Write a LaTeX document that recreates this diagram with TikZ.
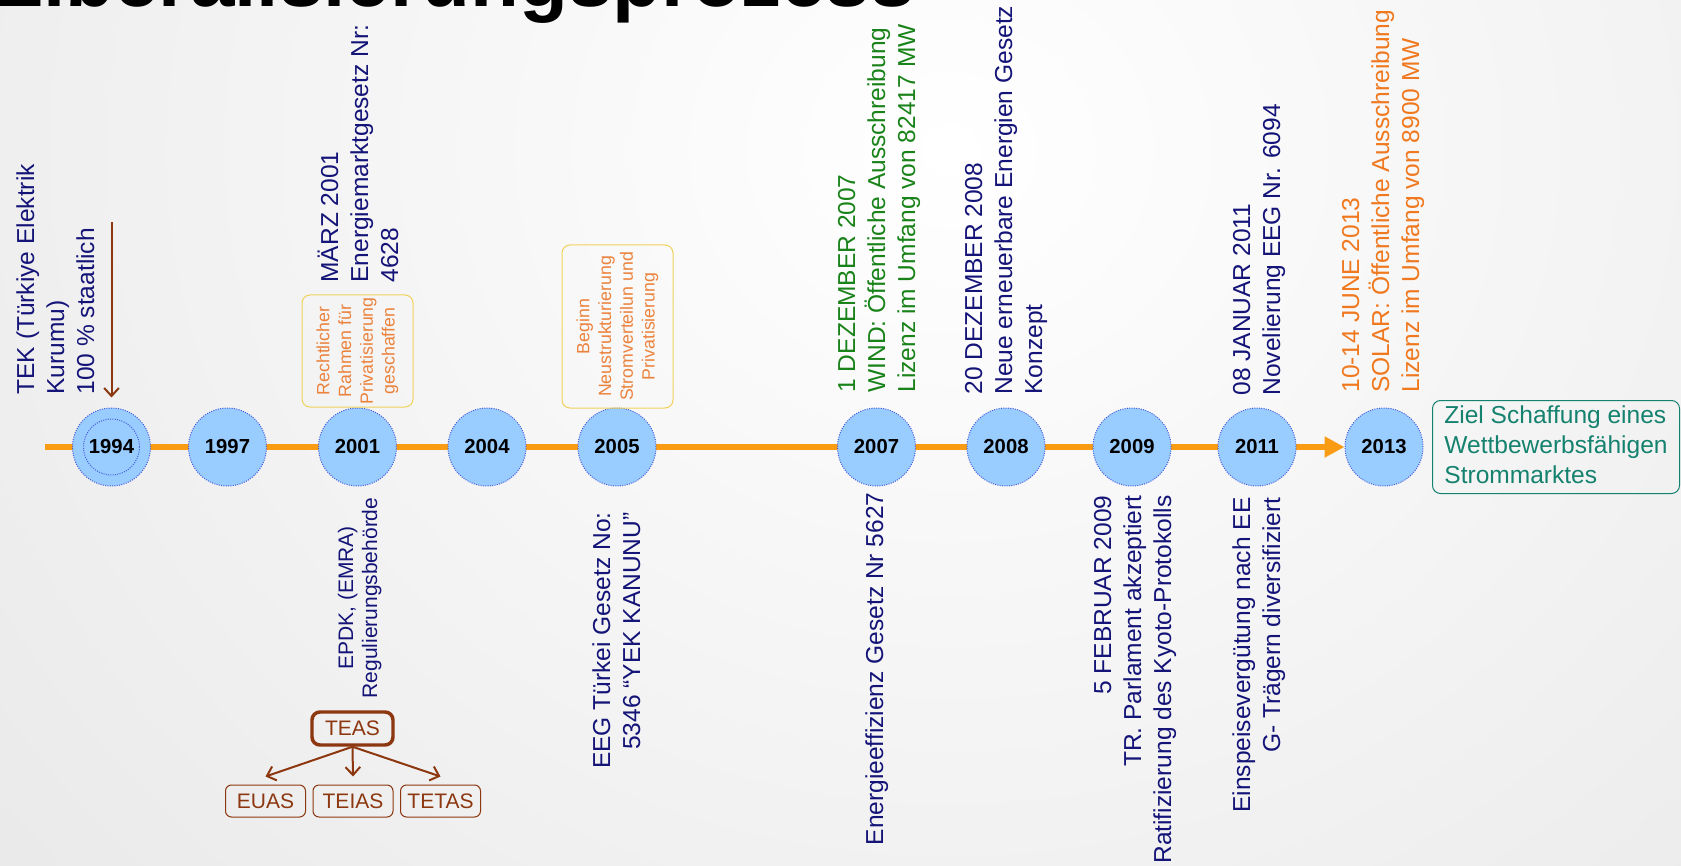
\documentclass[tikz,border=0pt]{standalone}
\usepackage{fontspec}
\setmainfont{Liberation Sans}
\usetikzlibrary{arrows.meta,backgrounds}

\definecolor{eventblue}{RGB}{20,20,120}
\definecolor{windgreen}{RGB}{25,130,25}
\definecolor{solarorange}{RGB}{240,120,30}
\definecolor{boxorange}{RGB}{235,130,60}
\definecolor{boxyellow}{RGB}{240,210,90}
\definecolor{lineorange}{RGB}{250,155,20}
\definecolor{yearfill}{RGB}{153,204,255}
\definecolor{yeardot}{RGB}{70,90,220}
\definecolor{teasbrown}{RGB}{140,55,15}
\definecolor{zielteal}{RGB}{20,130,110}

\newcommand{\eventfont}{\fontsize{18.4}{22.5}\selectfont}
\newcommand{\smallevfont}{\fontsize{15.75}{18}\selectfont}
\newcommand{\boxfont}{\fontsize{13.3}{16.3}\selectfont}

\tikzset{every picture/.style={line width=0.75pt},
  yearnode/.style={circle, minimum size=58.5pt, inner sep=0pt, fill=yearfill, draw=yeardot, densely dotted, font=\fontsize{15.2}{18}\selectfont\bfseries},
  yearring/.style={circle, minimum size=42pt, inner sep=0pt, draw=yeardot, densely dotted},
  upleft/.style={rotate=90, anchor=base west, align=left, inner sep=0pt, font=\eventfont, text=eventblue},
  upright/.style={rotate=90, anchor=base east, align=right, inner sep=0pt, font=\eventfont, text=eventblue},
  notebox/.style={rotate=90, draw=boxyellow, rounded corners=6pt, align=center, inner sep=0pt, font=\boxfont, text=boxorange, minimum height=83.25pt},
  teasbox/.style={draw=teasbrown, rounded corners=4.5pt, inner sep=0pt, minimum width=60pt, minimum height=24pt, font=\smallevfont, text=teasbrown},
  brownarrow/.style={draw=teasbrown, line width=1.5pt, -{Straight Barb[length=6pt,width=11pt]}},
  timeline/.style={draw=lineorange, line width=4.5pt, -{Triangle[length=15pt,width=15pt]}},
}

\begin{document}
\begin{tikzpicture}[x=0.75pt,y=0.75pt,yscale=-1,xscale=1]
\useasboundingbox (0,0) rectangle (1681,866);

% Title (cut at the top)
\begin{scope}
\clip (0,0) rectangle (1681,866);
\node[anchor=base west, inner sep=0pt, font=\fontsize{60}{61}\selectfont\bfseries] (title) at (-6,7) {Liberalisierungsprozess};
\end{scope}

% Year circles
\foreach \yr/\xx in {1994/111.5, 1997/227.5, 2001/357.5, 2004/487, 2005/617, 2007/876.5, 2008/1006, 2009/1132, 2011/1257, 2013/1384}
  \node[yearnode] (y\yr) at (\xx,447) {\yr};
\node[yearring] (ring1994) at (y1994) {};

\coordinate (tlstart) at (45,447);
\coordinate (tekstart) at (111.5,222);

% Text Node: 1994 (anchor on the baseline of the last line)
\node[upleft] (tek) at (94,395) {TEK (Türkiye Elektrik\\Kurumu)\\100 \% staatlich};
\draw[brownarrow] (tekstart) -- ([yshift=-7.5pt]y1994.north);

% Text Node: 2001
\node[upleft] (maerz) at (398,283) {MÄRZ 2001\\Energiemarktgesetz Nr:\\4628};
\node[notebox, minimum width=84pt] (rahmen) at (357.5,351) {Rechtlicher\\Rahmen für\\Privatisierung\\geschaffen};
\node[rotate=90, anchor=base, align=center, inner sep=0pt, font=\smallevfont, text=eventblue] (epdk) at (377,598) {EPDK, (EMRA)\\Regulierungsbehörde};

% TEAS tree
\node[teasbox, line width=2.6pt, rounded corners=6pt, minimum width=60.75pt, minimum height=24.75pt] (teas) at (352.5,728.5) {TEAS};
\node[teasbox] (euas) at (265.5,801) {EUAS};
\node[teasbox] (teias) at (353,801) {TEIAS};
\node[teasbox] (tetas) at (440.5,801) {TETAS};
\draw[brownarrow] (teas.south) -- ([yshift=-6pt]euas.north);
\draw[brownarrow] (teas.south) -- ([yshift=-6pt]teias.north);
\draw[brownarrow] (teas.south) -- ([yshift=-6pt]tetas.north);

% Text Node: 2005
\node[notebox, minimum width=122.25pt] (beginn) at (617.5,326.5) {Beginn\\Neustrukturierung\\Stromverteilun und\\Privatisierung};
\node[upright] (eeg) at (640,512) {EEG Türkei Gesetz No:\\5346 “YEK KANUNU”};

% Text Node: 2007
\node[upleft, text=windgreen] (wind) at (915,393) {1 DEZEMBER 2007\\WIND: Öffentliche Ausschreibung\\Lizenz im Umfang von 82417 MW};
\node[upright] (effizienz) at (883,492) {Energieeffizienz Gesetz Nr 5627};

% Text Node: 2008
\node[upleft] (dez08) at (1042,395) {20 DEZEMBER 2008\\Neue erneuerbare Energien Gesetz\\Konzept};

% Text Node: 2009
\node[upright] (kyoto) at (1171,495) {5 FEBRUAR 2009\\TR. Parlament akzeptiert\\Ratifizierung des Kyoto-Protokolls};

% Text Node: 2011
\node[upleft] (jan11) at (1280,396) {08 JANUAR 2011\\Novelierung EEG Nr. 6094};
\node[upright] (einspeis) at (1280,497) {Einspeisevergütung nach EE\\G- Trägern diversifiziert};

% Text Node: 2013
\node[upleft, text=solarorange] (solar) at (1419,393) {10-14 JUNE 2013\\SOLAR: Öffentliche Ausschreibung\\Lizenz im Umfang von 8900 MW};
\node[draw=zielteal, rounded corners=6pt, anchor=north west, align=left, inner xsep=1.5pt, inner ysep=0pt, font=\eventfont, text=zielteal, minimum width=185.25pt, text height=62.25pt, text depth=7.5pt] (ziel) at (1432,400) {Ziel Schaffung eines\\Wettbewerbsfähigen\\Strommarktes};

% Background and time line
\begin{scope}[on background layer]
\clip (0,0) rectangle (1681,866);
\shade[inner color=white, outer color=gray!27] (-1050,-1650) rectangle (2950,1950);
\draw[timeline] (tlstart) -- (y2013.west);
\end{scope}

\end{tikzpicture}
\end{document}
